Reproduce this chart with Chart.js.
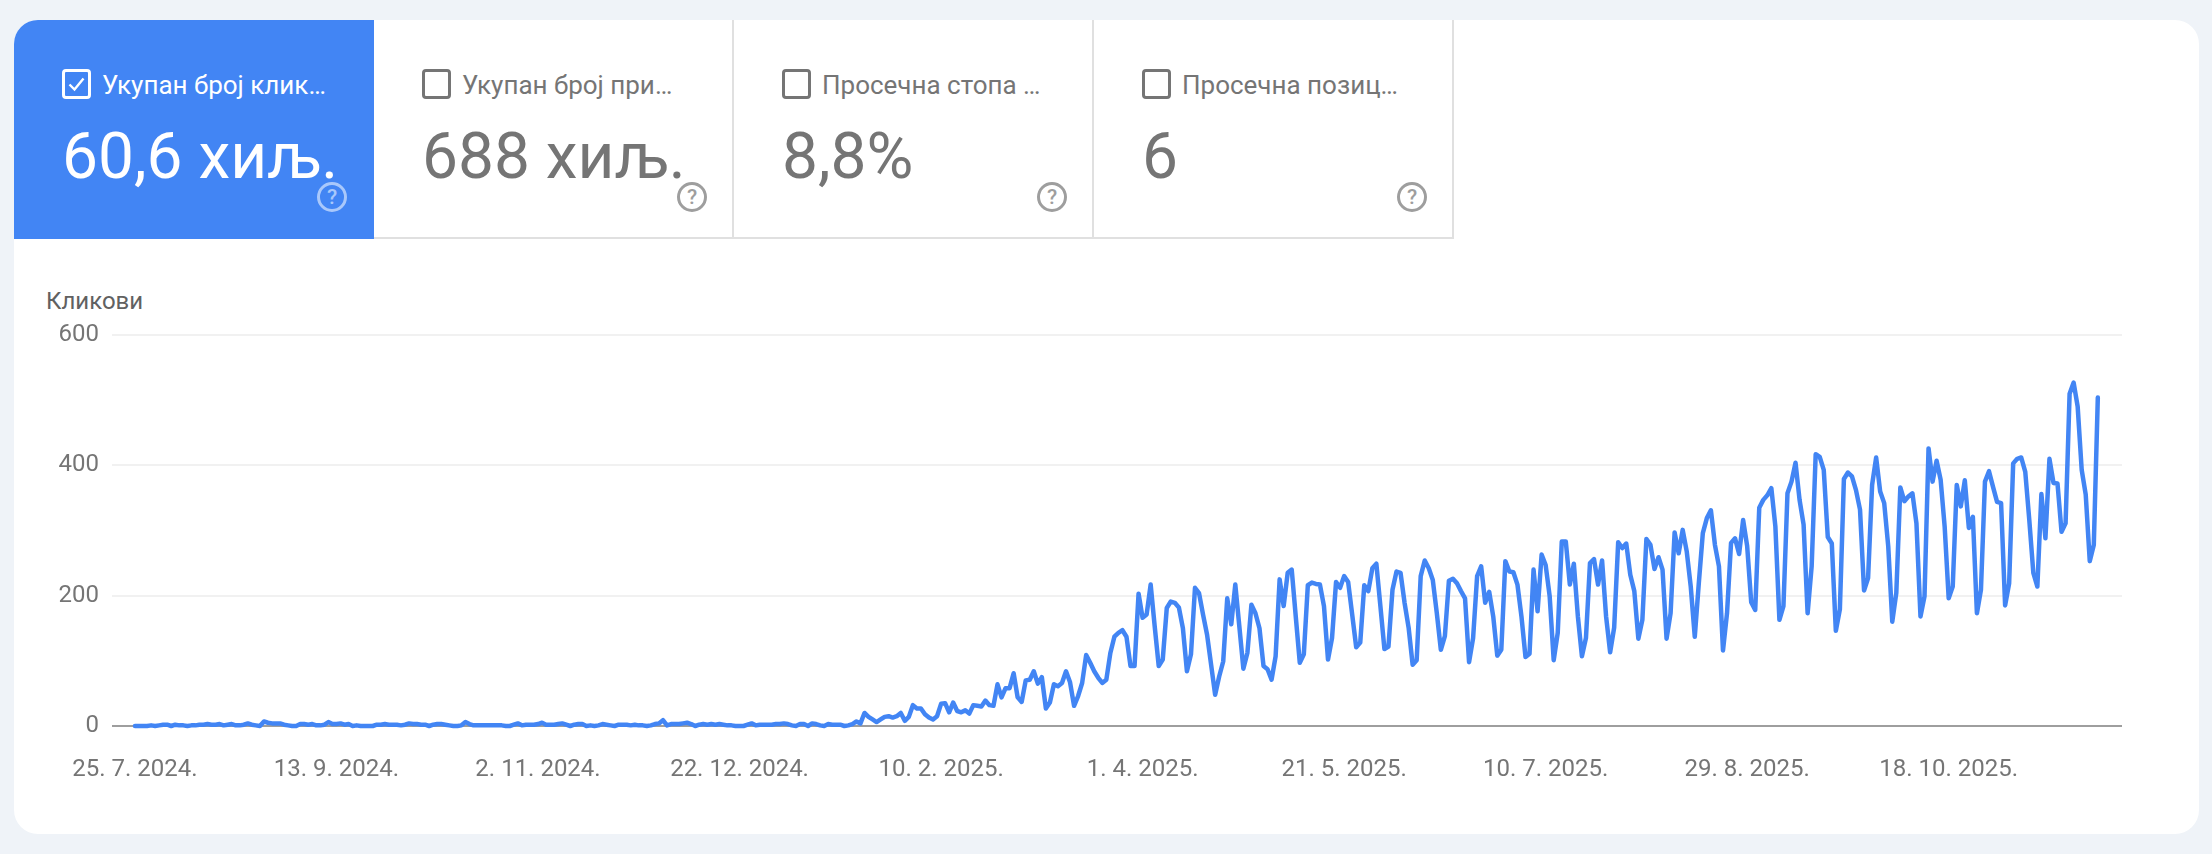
<!DOCTYPE html>
<html lang="sr">
<head>
<meta charset="utf-8">
<title>Кликови</title>
<script src="https://cdn.jsdelivr.net/npm/chart.js@4"></script>
<style>
    html, body { margin: 0; padding: 0; }
    body { width: 2212px; height: 854px; background: #eff3f8; font-family: Roboto, sans-serif; overflow: hidden; position: relative; }
    .card { position: absolute; left: 14px; top: 20px; width: 2185px; height: 814px; background: #fff; border-radius: 24px; overflow: hidden; }
    .tab { position: absolute; top: 0; width: 358px; height: 217px; background: #fff; color: #757575; border-right: 2px solid #e0e0e0; border-bottom: 2px solid #e0e0e0; }
    .tab.active { background: #4285f4; color: #fff; border-color: #4285f4; }
    .check { position: absolute; left: 48px; top: 49px; width: 23px; height: 24px; border: 3px solid #757575; border-radius: 4px; }
    .active .check { border-color: #fff; }
    .check svg { position: absolute; left: 1px; top: 1px; }
    .name { position: absolute; left: 88px; top: 50px; font-size: 26px; line-height: 30px; white-space: nowrap; }
    .value { position: absolute; left: 48px; top: 100px; font-size: 64px; line-height: 74px; white-space: nowrap; }
    .help { position: absolute; left: 303px; top: 162px; width: 24px; height: 24px; border: 3px solid #9e9e9e; border-radius: 50%; color: #9e9e9e; font-size: 21px; line-height: 24px; text-align: center; font-weight: 500; }
    .active .help { border-color: #a9c8fb; color: #a9c8fb; }
    .ytitle { position: absolute; left: 46px; top: 287px; font-size: 24px; line-height: 28px; color: #616161; }
    canvas { position: absolute; left: 0; top: 0; }
</style>
</head>
<body>
<div class="card">
    <div class="tab active" style="left:0">
        <div class="check"><svg width="21" height="22" viewBox="0 0 21 22"><path d="M3.5 11.5 L8.5 16.5 L17.5 5.5" fill="none" stroke="#fff" stroke-width="2.4"/></svg></div>
        <div class="name">Укупан број клик…</div>
        <div class="value">60,6 хиљ.</div>
        <div class="help">?</div>
    </div>
    <div class="tab" style="left:360px;">
        <div class="check"></div>
        <div class="name">Укупан број при…</div>
        <div class="value">688 хиљ.</div>
        <div class="help">?</div>
    </div>
    <div class="tab" style="left:720px;">
        <div class="check"></div>
        <div class="name">Просечна стопа …</div>
        <div class="value">8,8%</div>
        <div class="help">?</div>
    </div>
    <div class="tab" style="left:1080px;">
        <div class="check"></div>
        <div class="name">Просечна позиц…</div>
        <div class="value">6</div>
        <div class="help">?</div>
    </div>
</div>
<div class="ytitle">Кликови</div>
<canvas id="chart" width="2212" height="854"></canvas>
<script>
// dani od 25. 7. 2024, jedna vrednost po danu
const clicks = [
    0,0,0,0,1,0,1,2,2,0,
    2,1,1,0,1,1,2,2,3,2,
    2,3,1,2,3,1,1,2,4,2,
    1,0,7,5,4,4,4,2,1,0,
    0,3,3,2,3,1,1,2,6,3,
    3,4,2,3,0,1,0,0,0,0,
    2,2,3,2,2,2,1,2,4,3,
    3,2,2,0,2,3,3,2,1,0,
    0,1,6,3,1,1,1,1,1,1,
    1,1,0,0,2,4,1,2,2,2,
    3,5,2,2,2,3,4,2,0,2,
    3,3,0,1,0,1,3,2,1,0,
    2,2,2,1,2,1,1,0,1,3,
    4,9,1,3,3,3,4,5,3,0,
    2,3,2,3,2,3,2,1,1,0,
    0,0,2,4,1,2,2,2,2,3,
    3,4,3,1,0,3,3,0,4,3,
    1,0,3,2,2,2,0,1,3,7,
    4,20,14,10,6,10,14,15,13,15,
    20,8,14,32,27,27,18,13,10,15,
    34,35,21,36,23,21,24,19,32,31,
    30,39,32,31,64,44,58,58,81,44,
    37,70,71,84,65,75,27,36,64,61,
    66,84,67,31,46,66,109,97,84,74,
    66,71,112,137,143,147,137,92,92,203,
    166,171,217,153,92,102,181,191,189,182,
    150,84,110,212,204,171,140,94,48,76,
    99,196,156,217,153,88,112,186,173,150,
    92,87,71,107,225,184,235,240,168,97,
    110,216,220,218,217,184,102,135,221,212,
    230,221,171,121,128,216,207,242,249,184,
    118,122,209,237,235,189,151,94,101,230,
    254,242,224,173,117,138,223,226,219,207,
    196,98,135,230,245,189,206,168,108,117,
    253,237,236,217,168,106,111,240,176,263,
    247,199,101,143,283,283,217,249,168,107,
    135,250,256,217,254,168,113,151,282,273,
    280,232,207,134,163,287,278,241,259,240,
    134,173,297,265,301,268,214,137,219,296,
    319,331,278,245,116,173,281,288,264,316,
    276,190,178,335,347,354,365,306,163,184,
    357,375,404,347,309,173,245,417,413,393,
    290,280,146,179,379,389,383,362,332,208,
    227,370,412,360,342,276,160,204,366,345,
    352,357,311,168,199,426,375,407,378,306,
    196,214,370,337,377,304,321,173,209,375,
    391,367,344,342,185,219,403,410,412,390,
    316,235,214,356,288,410,373,372,298,311,
    510,527,490,393,355,253,278,504
];
const tickDays = [0, 50, 100, 150, 200, 250, 300, 350, 400, 450];
const tickLabels = ['25. 7. 2024.', '13. 9. 2024.', '2. 11. 2024.', '22. 12. 2024.', '10. 2. 2025.', '1. 4. 2025.', '21. 5. 2025.', '10. 7. 2025.', '29. 8. 2025.', '18. 10. 2025.'];
const yTicks = [0, 200, 400, 600];

const points = clicks.map((v, i) => ({ x: i, y: v }));

new Chart(document.getElementById('chart'), {
    type: 'line',
    data: {
        datasets: [{
            label: 'Кликови',
            data: points,
            borderColor: '#4285f4',
            borderWidth: 4.5,
            pointRadius: 0,
            tension: 0,
            borderJoinStyle: 'round',
            borderCapStyle: 'round',
            clip: false
        }]
    },
    options: {
        responsive: false,
        animation: false,
        layout: { padding: { top: 335, right: 90, bottom: 0, left: 0 } },
        plugins: { legend: { display: false }, tooltip: { enabled: false } },
        scales: {
            x: {
                type: 'linear',
                min: -5.7,
                max: 493,
                grid: { display: false },
                border: { display: false },
                afterBuildTicks: s => { s.ticks = tickDays.map(d => ({ value: d })); },
                afterFit: s => { s.height = 128; },
                ticks: {
                    autoSkip: false,
                    maxRotation: 0,
                    padding: 22,
                    color: '#757575',
                    font: { family: 'Roboto', size: 24 },
                    callback: v => tickLabels[tickDays.indexOf(v)]
                }
            },
            y: {
                min: 0,
                max: 600,
                border: { display: false },
                afterBuildTicks: s => { s.ticks = yTicks.map(v => ({ value: v })); },
                afterFit: s => { s.width = 112; },
                grid: {
                    drawTicks: false,
                    color: c => c.tick.value === 0 ? '#9e9e9e' : '#f1f1f1',
                    lineWidth: 2
                },
                ticks: {
                    padding: 13,
                    color: '#757575',
                    font: { family: 'Roboto', size: 24 }
                }
            }
        }
    }
});
</script>
</body>
</html>
